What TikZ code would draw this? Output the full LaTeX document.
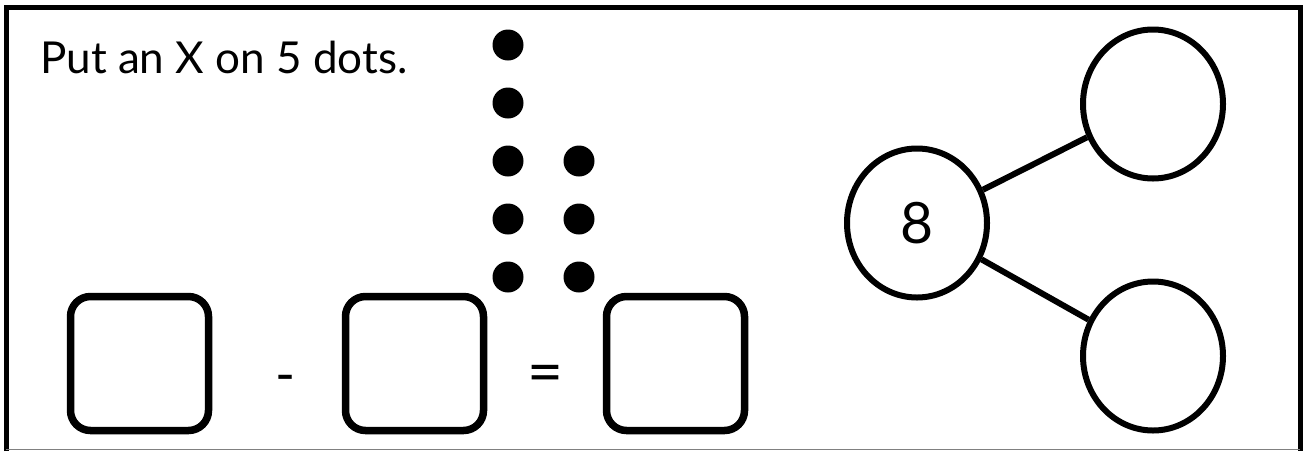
\documentclass[tikz,border=0pt]{standalone}
\usepackage{fontspec}
\setmainfont{Lato}
\usetikzlibrary{shapes.geometric}

\tikzset{
  answerbox/.style={draw, line width=7.5pt, rounded corners=20pt,
    minimum width=138pt, minimum height=134pt, inner sep=0pt},
  bubble/.style={draw, ellipse, line width=6pt, minimum width=140pt,
    minimum height=149pt, inner sep=0pt},
  dot/.style={fill=black},
}

\begin{document}
\begin{tikzpicture}[x=1pt, y=-1pt]
	\useasboundingbox (0,0) rectangle (1304,451);
	% frame round the task
	\draw[line width=5pt] (6,451) -- (6,7.5) -- (1300,7.5) -- (1300,451);
	\draw[gray, line width=1.5pt] (6,449.5) -- (1300,449.5);
	% instruction
	\node[anchor=base west, inner sep=0pt, font=\fontsize{44}{48}\selectfont]
		(task) at (40,73) {Put an X on 5 dots.};
	% the eight dots
	\foreach \y in {45,103,161,219,277}
		\fill[dot] (508,\y) circle (15.5pt);
	\foreach \y in {161,219,277}
		\fill[dot] (579,\y) circle (15.5pt);
	% number sentence
	\node[answerbox] (first) at (139.5,363.5) {};
	\node[answerbox] (second) at (414.5,363.5) {};
	\node[answerbox] (result) at (675.5,363.5) {};
	\node[font=\fontsize{54}{54}\selectfont, inner sep=0pt] (minus) at (285.5,384) {-};
	\node[font=\fontsize{62}{62}\selectfont, inner sep=0pt] (equals) at (545,379) {=};
	% part-whole model
	\node[bubble, font=\fontsize{57}{60}\selectfont] (whole) at (917,223) {8};
	\node[bubble] (partA) at (1153,104) {};
	\node[bubble] (partB) at (1153,356) {};
	\draw[line width=6pt] (whole) -- (partA);
	\draw[line width=6pt] (whole) -- (partB);
\end{tikzpicture}
\end{document}
